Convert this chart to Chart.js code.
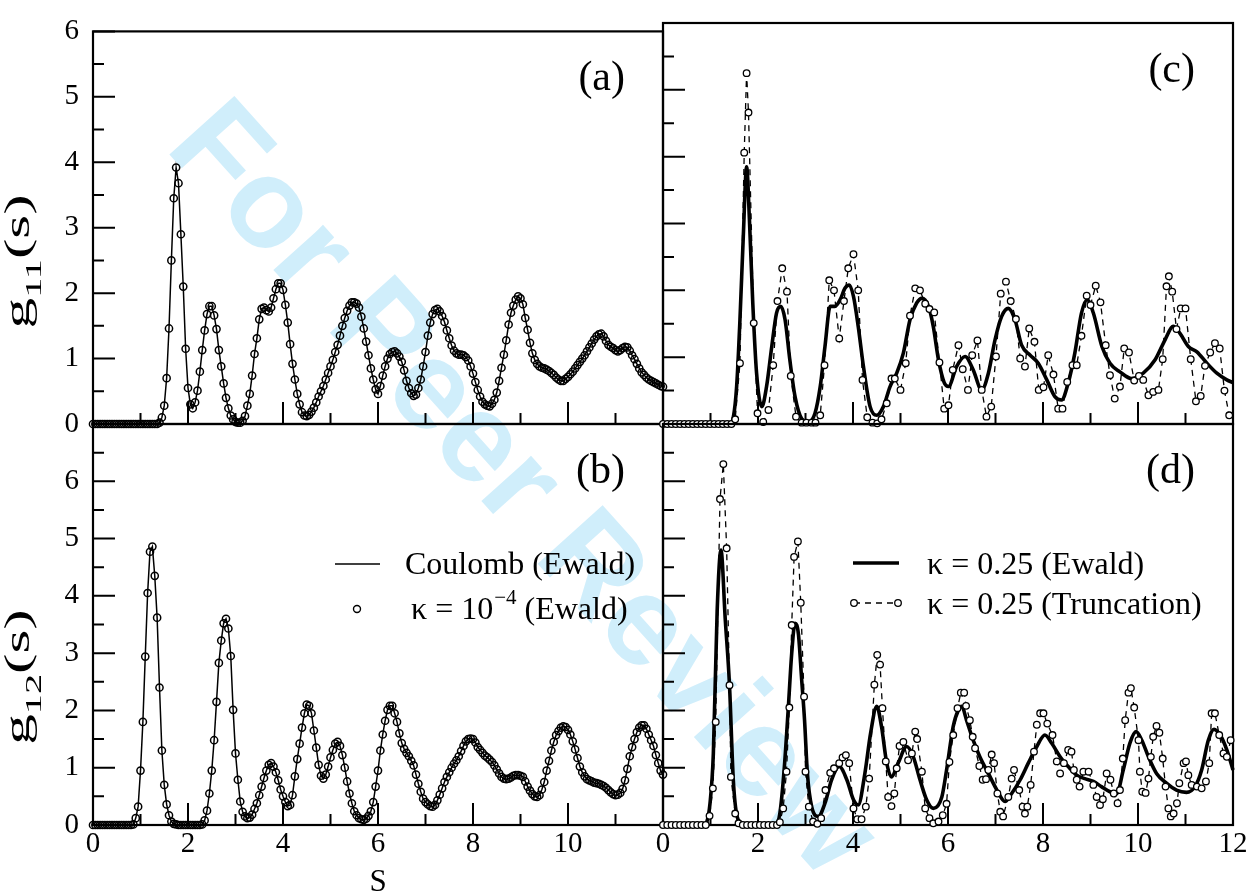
<!DOCTYPE html>
<html>
<head>
<meta charset="utf-8">
<script src="https://cdn.jsdelivr.net/npm/chart.js@4.4.1/dist/chart.umd.min.js"></script>
<style>
html, body { margin: 0; padding: 0; background: #fff; }
#wrap { position: relative; width: 1255px; height: 894px; overflow: hidden; }
canvas { position: absolute; left: 0; top: 0; }
#wm {
    position: absolute; left: 527px; top: 486px;
    transform: translate(-50%, -50%) rotate(48deg);
    font: bold 127px "Liberation Sans", Arial, sans-serif;
    color: #d0eefb; white-space: nowrap;
}
</style>
</head>
<body>
<div id="wrap">
    <div id="wm">For Peer Review</div>
    <canvas id="pa" width="1255" height="894"></canvas>
    <canvas id="pb" width="1255" height="894"></canvas>
    <canvas id="pc" width="1255" height="894"></canvas>
    <canvas id="pd" width="1255" height="894"></canvas>
</div>
<script>
// =====================
// DATA
// =====================
const xTicks = [0, 2, 4, 6, 8, 10, 12];

// panels (a),(b): sampled every 0.05 in s, from s = 0 to 12
const sStep = 0.05;
const g11Coulomb = [
    0,0,0,0,0,0,0,0,0,0, 0,0,0,0,0,0,0,0,0,0, 0,0,0,0,0,0,0,0,
    0.02,0.10,0.28,0.70,1.46,2.50,3.45,3.92,3.68,2.90,
    2.10,1.15,0.55,0.30,0.24,0.33,0.51,0.80,1.13,1.43,
    1.68,1.80,1.80,1.66,1.45,1.13,0.88,0.62,0.40,0.24,
    0.13,0.07,0.03,0.02,0.02,0.05,0.12,0.28,0.46,0.74,
    1.07,1.31,1.60,1.76,1.78,1.74,1.72,1.78,1.92,2.06,
    2.15,2.15,2.05,1.82,1.55,1.22,0.92,0.68,0.46,0.30,
    0.18,0.13,0.12,0.14,0.19,0.25,0.33,0.42,0.50,0.58,
    0.68,0.78,0.88,0.98,1.10,1.21,1.35,1.50,1.62,1.73,
    1.81,1.86,1.86,1.84,1.78,1.64,1.46,1.26,1.05,0.85,
    0.68,0.53,0.46,0.58,0.74,0.88,1.00,1.07,1.10,1.11,
    1.08,1.03,0.95,0.82,0.66,0.55,0.47,0.43,0.45,0.55,
    0.68,0.88,1.10,1.35,1.55,1.68,1.74,1.76,1.72,1.65,
    1.56,1.43,1.31,1.20,1.12,1.08,1.06,1.06,1.05,1.02,
    0.97,0.88,0.77,0.64,0.52,0.42,0.34,0.30,0.28,0.27,
    0.31,0.37,0.48,0.66,0.86,1.06,1.28,1.52,1.70,1.81,
    1.90,1.95,1.92,1.83,1.62,1.44,1.24,1.08,0.98,0.92,
    0.88,0.86,0.85,0.83,0.81,0.78,0.75,0.71,0.68,0.66,
    0.66,0.69,0.72,0.76,0.80,0.85,0.90,0.95,1.00,1.05,
    1.11,1.17,1.23,1.29,1.34,1.37,1.38,1.34,1.27,1.21,
    1.18,1.16,1.13,1.11,1.13,1.16,1.18,1.17,1.12,1.05,
    0.99,0.92,0.85,0.79,0.75,0.71,0.68,0.66,0.64,0.62,
    0.60,0.58,0.57
];
// kappa = 1e-4 sits on top of the Coulomb curve at this resolution
const g11Kappa4 = g11Coulomb;

const g12Coulomb = [
    0,0,0,0,0,0,0,0,0,0, 0,0,0,0,0,0,0,
    0.01,0.12,0.32,0.95,1.80,2.94,4.05,4.77,4.86,4.35,
    3.62,2.40,1.30,0.70,0.36,0.17,0.06,0.02,0.01,0,
    0,0,0,0,0,0,0,0,0,0.01,
    0.08,0.25,0.55,0.95,1.48,2.15,2.83,3.22,3.52,3.60,
    3.43,2.95,2.01,1.25,0.79,0.41,0.23,0.15,0.12,0.13,
    0.18,0.28,0.38,0.52,0.67,0.82,0.95,1.05,1.08,1.02,
    0.92,0.78,0.62,0.50,0.40,0.33,0.35,0.52,0.85,1.15,
    1.42,1.70,1.95,2.10,2.08,1.95,1.65,1.35,1.05,0.86,
    0.81,0.88,1.02,1.18,1.31,1.42,1.45,1.38,1.22,1.00,
    0.76,0.55,0.38,0.24,0.17,0.12,0.10,0.09,0.11,0.16,
    0.24,0.40,0.67,0.95,1.30,1.58,1.82,2.01,2.08,2.08,
    1.95,1.80,1.60,1.43,1.33,1.26,1.20,1.12,1.04,0.88,
    0.72,0.58,0.46,0.40,0.36,0.33,0.32,0.35,0.43,0.53,
    0.64,0.75,0.84,0.92,1.00,1.07,1.13,1.20,1.29,1.38,
    1.46,1.50,1.51,1.50,1.44,1.36,1.31,1.26,1.21,1.18,
    1.14,1.10,1.04,0.97,0.90,0.84,0.81,0.80,0.81,0.83,
    0.86,0.87,0.87,0.86,0.84,0.76,0.67,0.60,0.54,0.50,
    0.49,0.52,0.62,0.75,0.95,1.12,1.30,1.45,1.57,1.64,
    1.70,1.72,1.71,1.66,1.58,1.46,1.32,1.17,1.02,0.92,
    0.85,0.80,0.78,0.76,0.74,0.73,0.72,0.70,0.68,0.65,
    0.61,0.57,0.54,0.52,0.53,0.56,0.63,0.78,0.98,1.20,
    1.36,1.50,1.62,1.70,1.74,1.74,1.68,1.58,1.48,1.38,
    1.22,1.08,0.95,0.88
];
const g12Kappa4 = g12Coulomb;

// panel (c): kappa = 0.25, Ewald (solid) and truncation (dashed + circles)
const sEwaldC = [0,1.40,1.48,1.55,1.62,1.69,1.76,1.82,1.89,1.97,
    2.08,2.18,2.29,2.39,2.48,2.57,2.67,2.78,2.92,3.06,
    3.20,3.31,3.41,3.52,3.62,3.73,3.83,3.92,4.01,4.11,
    4.22,4.36,4.50,4.64,4.78,4.92,5.06,5.20,5.34,5.45,
    5.59,5.69,5.80,5.92,6.01,6.18,6.36,6.53,6.71,6.85,
    6.99,7.13,7.27,7.41,7.55,7.73,7.90,8.08,8.25,8.39,
    8.53,8.67,8.81,8.93,9.06,9.24,9.41,9.62,9.87,10.11,
    10.36,10.57,10.74,10.88,11.06,11.24,11.45,11.66,11.87,12.00];
const gEwaldC = [0,0,0.10,0.56,1.56,2.80,3.85,3.05,1.81,0.76,
    0.26,0.56,1.16,1.66,1.76,1.56,0.96,0.41,0.08,0.03,
    0.16,0.56,1.16,1.76,1.76,1.86,2.03,2.08,1.91,1.46,
    0.86,0.26,0.13,0.26,0.56,0.76,1.06,1.56,1.81,1.88,
    1.76,1.46,0.96,0.62,0.56,0.86,1.01,0.81,0.51,0.76,
    1.26,1.61,1.73,1.56,1.18,1.03,0.91,0.66,0.41,0.36,
    0.61,1.06,1.66,1.86,1.66,1.16,0.91,0.78,0.68,0.76,
    0.96,1.26,1.46,1.36,1.16,1.08,0.91,0.76,0.66,0.62];

const sTruncC = [0,0.09,0.18,0.27,0.36,0.45,0.54,0.63,0.72,0.81,0.90,0.99,1.08,1.17,1.26,1.35,1.44,
    1.52,1.62,1.71,1.76,1.80,1.91,1.99,2.11,2.22,2.32,
    2.41,2.51,2.61,2.69,2.80,2.92,3.02,3.13,3.21,3.31,
    3.40,3.50,3.60,3.71,3.81,3.90,4.01,4.11,4.20,4.30,
    4.41,4.51,4.60,4.71,4.81,4.88,5.00,5.11,5.20,5.31,
    5.41,5.52,5.61,5.71,5.82,5.92,6.01,6.10,6.22,6.31,
    6.42,6.51,6.62,6.71,6.81,6.91,7.01,7.11,7.22,7.32,
    7.43,7.52,7.62,7.71,7.82,7.91,8.01,8.11,8.22,8.32,
    8.41,8.51,8.62,8.71,8.81,8.92,9.00,9.11,9.21,9.32,
    9.41,9.51,9.62,9.71,9.81,9.92,10.02,10.11,10.22,10.32,
    10.43,10.52,10.60,10.65,10.72,10.81,10.90,11.00,11.11,11.22,
    11.32,11.41,11.52,11.62,11.72,11.82,11.92];
const gTruncC = [0,0,0,0,0,0,0,0,0,0,0,0,0,0,0,0,0,
    0.07,0.91,4.06,5.25,4.66,1.51,0.16,0.03,0.21,0.88,
    1.84,2.33,1.98,0.72,0.11,0.02,0.02,0.02,0.02,0.13,
    0.88,2.15,2.00,1.28,1.84,2.33,2.54,2.00,0.66,0.10,
    0.02,0.01,0.07,0.31,0.68,0.68,0.51,0.91,1.62,2.03,
    2.00,1.80,1.72,1.67,0.92,0.23,0.28,0.81,1.18,0.82,
    0.51,1.03,1.25,0.51,0.11,0.26,1.01,1.95,2.13,1.84,
    1.57,0.98,0.86,1.43,1.23,0.51,0.55,1.03,0.74,0.23,
    0.23,0.63,0.88,0.88,1.32,1.92,1.78,2.07,1.82,1.18,
    0.73,0.38,0.56,1.13,1.07,0.65,0.72,0.66,0.43,0.48,
    0.51,0.97,2.06,2.21,1.98,1.42,1.73,1.73,0.97,0.34,
    0.42,0.87,1.07,1.21,1.13,0.50,0.13];

// panel (d)
const sEwaldD = [0,0.85,0.92,0.99,1.06,1.14,1.22,1.31,1.40,1.48,
    1.56,1.66,1.75,2.38,2.46,2.55,2.64,2.71,2.78,2.85,
    2.92,2.98,3.04,3.13,3.27,3.41,3.55,3.71,3.87,4.01,
    4.11,4.25,4.37,4.50,4.60,4.71,4.81,4.95,5.13,5.27,
    5.41,5.55,5.69,5.87,5.97,6.11,6.22,6.29,6.39,6.53,
    6.67,6.85,7.03,7.20,7.34,7.52,7.69,7.87,8.04,8.18,
    8.36,8.53,8.71,8.88,9.06,9.23,9.41,9.55,9.69,9.83,
    9.96,10.08,10.22,10.39,10.60,10.81,11.02,11.20,11.34,11.48,
    11.60,11.73,11.87,12.00];
const gEwaldD = [0,0,0.05,0.38,1.25,3.73,4.80,3.60,2.44,0.79,
    0.15,0.03,0,0,0.20,0.96,2.07,3.00,3.52,3.34,
    2.53,1.83,0.90,0.32,0.15,0.38,0.79,1.02,0.79,0.44,
    0.35,0.90,1.60,2.07,1.72,1.08,0.84,1.08,1.37,1.19,
    0.79,0.44,0.29,0.49,0.96,1.72,2.01,2.07,1.83,1.48,
    1.19,0.90,0.61,0.41,0.55,0.79,1.08,1.37,1.57,1.43,
    1.19,1.02,0.87,0.81,0.76,0.67,0.58,0.55,0.96,1.43,
    1.63,1.48,1.19,0.90,0.73,0.61,0.57,0.67,0.96,1.48,
    1.67,1.57,1.31,0.96];

const sTruncD = [0,0.09,0.18,0.27,0.36,0.45,0.54,0.63,0.72,0.81,0.90,
    0.98,1.05,1.11,1.20,1.27,1.34,1.40,1.43,1.52,1.59,
    1.68,1.77,1.86,1.95,2.04,2.13,2.22,2.31,2.40,
    2.46,2.53,2.60,2.66,2.71,2.76,2.84,2.90,2.97,3.00,
    3.07,3.16,3.25,3.33,3.42,3.52,3.60,3.71,3.78,3.85,
    3.92,4.01,4.09,4.18,4.27,4.34,4.45,4.51,4.57,4.62,
    4.69,4.74,4.81,4.87,4.92,4.98,5.06,5.16,5.24,5.31,
    5.35,5.45,5.52,5.61,5.69,5.80,5.89,5.97,6.03,6.11,
    6.20,6.27,6.34,6.38,6.46,6.52,6.57,6.66,6.73,6.80,
    6.85,6.92,6.97,7.04,7.10,7.16,7.27,7.34,7.39,7.50,
    7.57,7.62,7.67,7.74,7.81,7.87,7.94,8.01,8.09,8.20,
    8.29,8.36,8.44,8.53,8.60,8.65,8.71,8.77,8.85,8.96,
    9.06,9.13,9.20,9.26,9.34,9.42,9.49,9.57,9.62,9.68,
    9.73,9.80,9.85,9.92,10.01,10.04,10.09,10.16,10.22,10.27,
    10.32,10.39,10.45,10.52,10.58,10.64,10.69,10.75,10.82,10.87,
    10.96,11.01,11.06,11.13,11.24,11.34,11.43,11.50,11.55,11.62,
    11.71,11.80,11.87,11.95];
const gTruncD = [0,0,0,0,0,0,0,0,0,0,0,
    0.16,0.64,1.80,5.69,6.30,4.83,2.44,0.84,0.20,0.03,
    0,0,0,0,0,0,0,0,0,
    0.05,0.29,0.93,2.05,3.49,4.68,4.95,3.88,2.24,0.93,
    0.32,0.06,0.02,0.12,0.61,0.91,0.99,1.08,1.18,1.22,
    1.08,0.29,0.10,0.10,0.32,0.81,2.45,2.97,2.80,2.04,
    1.11,0.49,0.33,0.55,0.99,1.38,1.45,1.13,1.25,1.63,
    1.50,0.93,0.29,0.12,0.03,0.06,0.17,0.37,1.10,1.57,
    2.04,2.31,2.31,2.08,1.83,1.54,1.34,1.03,0.79,0.80,
    0.96,1.23,1.08,0.55,0.23,0.15,0.49,0.81,0.96,0.61,
    0.32,0.20,0.32,0.70,1.28,1.75,1.95,1.95,1.77,1.57,
    1.11,0.90,1.08,1.31,1.28,0.96,0.79,0.67,0.93,0.93,
    0.70,0.49,0.35,0.45,0.90,0.79,0.55,0.38,0.61,1.16,
    1.83,2.31,2.39,2.05,1.48,0.93,0.58,0.56,0.81,1.19,
    1.54,1.73,1.61,1.16,0.67,0.29,0.15,0.20,0.38,0.73,
    1.08,1.11,0.87,0.70,0.67,0.64,0.76,1.08,1.95,1.95,
    1.57,1.25,1.19,1.48];

// =====================
// HELPERS
// =====================
const W = 1255, H = 894;
const SERIF = "'Liberation Serif', 'Times New Roman', serif";
Chart.defaults.font.family = SERIF;
Chart.defaults.color = "#000";

const sLeft = g11Coulomb.map((_, i) => +(i * sStep).toFixed(2));

function pts(xs, ys) {
    return xs.map((x, i) => ({ x: x, y: ys[i] }));
}

function linha(ctx, x1, y1, x2, y2) {
    ctx.beginPath();
    ctx.moveTo(x1, y1);
    ctx.lineTo(x2, y2);
    ctx.stroke();
}

function circulo(ctx, x, y, r, fill) {
    ctx.beginPath();
    ctx.arc(x, y, r, 0, Math.PI * 2);
    if (fill) { ctx.fillStyle = fill; ctx.fill(); }
    ctx.stroke();
}

// rotated y title, long and narrow like the original
function tituloY(ctx, sub, cx, cy) {
    ctx.save();
    ctx.translate(cx, cy);
    ctx.rotate(-Math.PI / 2);
    ctx.scale(1.75, 1);
    ctx.fillStyle = "#000";
    ctx.textAlign = "left";
    ctx.textBaseline = "alphabetic";
    ctx.font = "35px " + SERIF;
    const wg = ctx.measureText("g").width;
    const ws = ctx.measureText("(s)").width;
    ctx.font = "23px " + SERIF;
    const wsub = ctx.measureText(sub).width;
    let x = -(wg + wsub + ws) / 2;
    ctx.font = "35px " + SERIF;
    ctx.fillText("g", x, 0);
    x += wg;
    ctx.font = "23px " + SERIF;
    ctx.fillText(sub, x, 12);
    x += wsub;
    ctx.font = "35px " + SERIF;
    ctx.fillText("(s)", x, 0);
    ctx.restore();
}

// frame, inward ticks and all the text of a panel
const decor = {
    id: "decor",
    beforeDatasetsDraw(chart, args, o) {
        const { ctx, chartArea: a } = chart;
        const xs = chart.scales.x, ys = chart.scales.y;
        ctx.save();
        ctx.strokeStyle = "#000";
        ctx.lineWidth = 2;
        ctx.beginPath();
        for (let v = xs.min; v <= xs.max; v += 1) {
            const p = xs.getPixelForValue(v);
            const len = v % 2 === 0 ? 22 : 11;
            ctx.moveTo(p, a.bottom);
            ctx.lineTo(p, a.bottom - len);
        }
        for (let v = ys.min; v <= ys.max; v += 0.5) {
            const p = ys.getPixelForValue(v);
            const len = v % 1 === 0 ? 22 : 11;
            ctx.moveTo(a.left, p);
            ctx.lineTo(a.left + len, p);
        }
        ctx.stroke();
        ctx.lineWidth = 2.2;
        ctx.strokeRect(a.left, a.top, a.right - a.left, a.bottom - a.top);
        ctx.restore();
    },
    afterDraw(chart, args, o) {
        const { ctx, chartArea: a } = chart;
        ctx.save();
        ctx.fillStyle = "#000";
        ctx.strokeStyle = "#000";
        ctx.textBaseline = "alphabetic";

        // (a) (b) (c) (d)
        ctx.font = "42px " + SERIF;
        ctx.textAlign = "right";
        ctx.fillText(o.tag, a.right - 38, a.top + 59);

        if (o.yTitle) tituloY(ctx, o.yTitle, 29, a.top + o.yTitleY);

        if (o.xTitle) {
            ctx.font = "31px " + SERIF;
            ctx.textAlign = "center";
            ctx.fillText(o.xTitle, chart.scales.x.getPixelForValue(6), a.bottom + 66);
        }

        ctx.textAlign = "left";
        if (o.legenda === "esq") {
            const x0 = a.left, y0 = a.top;
            ctx.lineWidth = 1.5;
            linha(ctx, x0 + 242, y0 + 140, x0 + 287, y0 + 140);
            ctx.font = "32px " + SERIF;
            ctx.fillText("Coulomb (Ewald)", x0 + 312, y0 + 150);
            ctx.lineWidth = 1.4;
            circulo(ctx, x0 + 264, y0 + 185, 3.5, null);
            let x = x0 + 318;
            const by = y0 + 195;
            ctx.fillStyle = "#000";
            ctx.font = "32px " + SERIF;
            ctx.fillText("\u03ba = 10", x, by);
            x += ctx.measureText("\u03ba = 10").width + 1;
            ctx.font = "21px " + SERIF;
            ctx.fillText("\u22124", x, by - 15);
            x += ctx.measureText("\u22124").width;
            ctx.font = "32px " + SERIF;
            ctx.fillText(" (Ewald)", x, by);
        }
        if (o.legenda === "dir") {
            const x0 = a.left, y0 = a.top;
            ctx.lineWidth = 3.5;
            linha(ctx, x0 + 190, y0 + 139, x0 + 236, y0 + 139);
            ctx.font = "32px " + SERIF;
            ctx.fillText("\u03ba = 0.25 (Ewald)", x0 + 264, y0 + 150);
            ctx.lineWidth = 1.3;
            ctx.setLineDash([6, 5]);
            linha(ctx, x0 + 191, y0 + 179, x0 + 235, y0 + 179);
            ctx.setLineDash([]);
            circulo(ctx, x0 + 191, y0 + 179, 3.3, "#fff");
            circulo(ctx, x0 + 235, y0 + 179, 3.3, "#fff");
            ctx.fillStyle = "#000";
            ctx.fillText("\u03ba = 0.25 (Truncation)", x0 + 264, y0 + 190);
        }
        ctx.restore();
    }
};

function painel(id, box, cfg) {
    return new Chart(document.getElementById(id), {
        type: "scatter",
        data: { datasets: cfg.datasets },
        options: {
            responsive: false,
            animation: false,
            events: [],
            devicePixelRatio: 1,
            layout: {
                padding: {
                    left: box.left - 30,
                    top: box.top,
                    right: W - box.right,
                    bottom: H - box.bottom - 40
                }
            },
            plugins: {
                legend: { display: false },
                tooltip: { enabled: false },
                decor: cfg.decor
            },
            scales: {
                x: {
                    type: "linear", min: 0, max: 12,
                    grid: { display: false, drawTicks: false },
                    border: { display: false },
                    afterBuildTicks: s => { s.ticks = xTicks.map(v => ({ value: v })); },
                    ticks: {
                        display: cfg.showX, padding: 2, color: "#000",
                        font: { size: 29 }, maxRotation: 0, autoSkip: false,
                        callback: v => (cfg.hide12 && v === 12) ? "" : v
                    },
                    afterFit: s => { s.height = 40; }
                },
                y: {
                    type: "linear", min: 0, max: cfg.yMax,
                    grid: { display: false, drawTicks: false },
                    border: { display: false },
                    ticks: {
                        display: cfg.showY, stepSize: 1, padding: 14, color: "#000",
                        font: { size: 29 },
                        callback: v => v === 7 ? "" : v
                    },
                    afterFit: s => { s.width = 30; }
                }
            }
        },
        plugins: [decor]
    });
}

function linhaFina(xs, ys) {
    return { data: pts(xs, ys), showLine: true, borderColor: "#000", borderWidth: 1.5,
             pointRadius: 0, tension: 0, clip: false, order: 1 };
}
function circulosAbertos(xs, ys) {
    return { data: pts(xs, ys), showLine: false, pointRadius: 3.6, pointBorderWidth: 1.5,
             pointBorderColor: "#000", pointBackgroundColor: "rgba(0,0,0,0)", clip: false, order: 2 };
}
function ewald(xs, ys) {
    return { data: pts(xs, ys), showLine: true, borderColor: "#000", borderWidth: 3.6,
             pointRadius: 0, cubicInterpolationMode: "monotone", clip: false, order: 2 };
}
function truncamento(xs, ys) {
    return { data: pts(xs, ys), showLine: true, borderColor: "#000", borderWidth: 1.3,
             borderDash: [6, 5], tension: 0, pointRadius: 3.3, pointBorderWidth: 1.3,
             pointBorderColor: "#000", pointBackgroundColor: "#fff", clip: false, order: 1 };
}

// =====================
// PANELS
// =====================
painel("pa", { left: 93, top: 23, right: 663, bottom: 424 }, {
    yMax: 6, showX: false, showY: true, hide12: true,
    datasets: [linhaFina(sLeft, g11Coulomb), circulosAbertos(sLeft, g11Kappa4)],
    decor: { tag: "(a)", yTitle: "11", yTitleY: 230 }
});
painel("pb", { left: 93, top: 424, right: 663, bottom: 825 }, {
    yMax: 7, showX: true, showY: true, hide12: true,
    datasets: [linhaFina(sLeft, g12Coulomb), circulosAbertos(sLeft, g12Kappa4)],
    decor: { tag: "(b)", yTitle: "12", yTitleY: 253, xTitle: "S", legenda: "esq" }
});
painel("pc", { left: 663, top: 23, right: 1233, bottom: 424 }, {
    yMax: 6, showX: false, showY: false, hide12: false,
    datasets: [ewald(sEwaldC, gEwaldC), truncamento(sTruncC, gTruncC)],
    decor: { tag: "(c)" }
});
painel("pd", { left: 663, top: 424, right: 1233, bottom: 825 }, {
    yMax: 7, showX: true, showY: false, hide12: false,
    datasets: [ewald(sEwaldD, gEwaldD), truncamento(sTruncD, gTruncD)],
    decor: { tag: "(d)", legenda: "dir" }
});
</script>
</body>
</html>
